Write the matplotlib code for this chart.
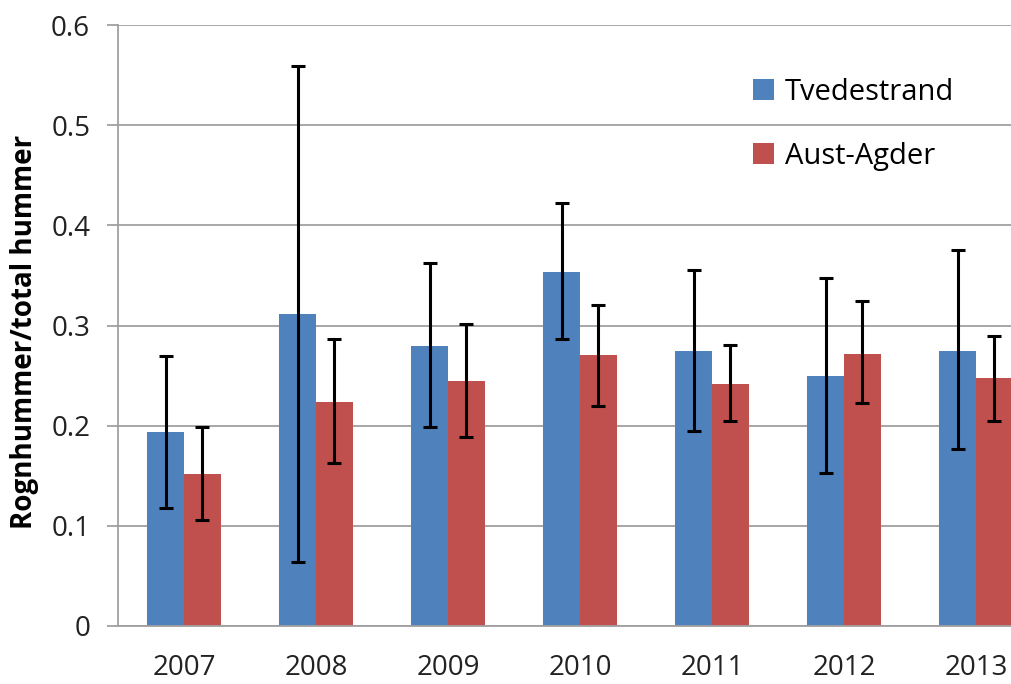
import matplotlib
matplotlib.use("Agg")
import matplotlib.pyplot as plt
import numpy as np

years = ["2007", "2008", "2009", "2010", "2011", "2012", "2013"]
tvede = [0.194, 0.311, 0.280, 0.353, 0.275, 0.250, 0.275]
tvede_lo = [0.118, 0.064, 0.199, 0.287, 0.195, 0.153, 0.177]
tvede_hi = [0.270, 0.559, 0.362, 0.422, 0.355, 0.347, 0.375]
aust = [0.152, 0.224, 0.245, 0.271, 0.242, 0.272, 0.248]
aust_lo = [0.106, 0.163, 0.189, 0.220, 0.205, 0.223, 0.205]
aust_hi = [0.199, 0.287, 0.301, 0.320, 0.281, 0.324, 0.290]
yticks = [0, 0.1, 0.2, 0.3, 0.4, 0.5, 0.6]
ytick_labels = ["0", "0.1", "0.2", "0.3", "0.4", "0.5", "0.6"]

plt.rcParams['font.family'] = ['Open Sans', 'DejaVu Sans']

fig = plt.figure(figsize=(10.11, 6.84), dpi=100)
ax = fig.add_axes([118/1011, 58/684, 1 - 118/1011, (626-25)/684])

x = np.arange(len(years))
w = 0.28
tv = np.array(tvede); au = np.array(aust)
err_t = [tv - np.array(tvede_lo), np.array(tvede_hi) - tv]
err_a = [au - np.array(aust_lo), np.array(aust_hi) - au]

ax.bar(x - w/2, tv, w, color="#4F81BD", label="Tvedestrand", zorder=2)
ax.bar(x + w/2, au, w, color="#C0504D", label="Aust-Agder", zorder=2)
ekw = dict(fmt='none', ecolor='black', elinewidth=2.2, capsize=4.8, capthick=2.2, zorder=3)
ax.errorbar(x - w/2, tv, yerr=err_t, **ekw)
ax.errorbar(x + w/2, au, yerr=err_a, **ekw)

ax.set_ylim(0, 0.6)
ax.set_xlim(-0.5, 6.265)
ax.set_yticks(yticks)
ax.set_yticklabels(ytick_labels)
ax.set_xticks(x)
ax.set_xticklabels(years)
ax.yaxis.grid(True, color="#A0A0A0", linewidth=1.3, zorder=0)
ax.set_axisbelow(True)
for s in ['top', 'right']:
    ax.spines[s].set_visible(False)
for s in ['left', 'bottom']:
    ax.spines[s].set_color("#A0A0A0")
    ax.spines[s].set_linewidth(1.3)
ax.tick_params(axis='y', length=8, width=1.3, color="#A0A0A0", labelsize=20, pad=12, labelcolor='#222222')
ax.tick_params(axis='x', length=0, labelsize=20, pad=20, labelcolor='#222222')
fig.text(25/1011, 1 - 332/684, "Rognhummer/total hummer", rotation=90, ha='center', va='center',
         fontsize=20, fontweight='bold')

ax.legend(loc='upper left', bbox_to_anchor=(738/1011, 1 - 63/684), bbox_transform=fig.transFigure,
          frameon=False, fontsize=21, handlelength=0.75, handleheight=0.75, labelspacing=1.2,
          handletextpad=0.35, borderpad=0)

fig.savefig("out.png", dpi=100)
